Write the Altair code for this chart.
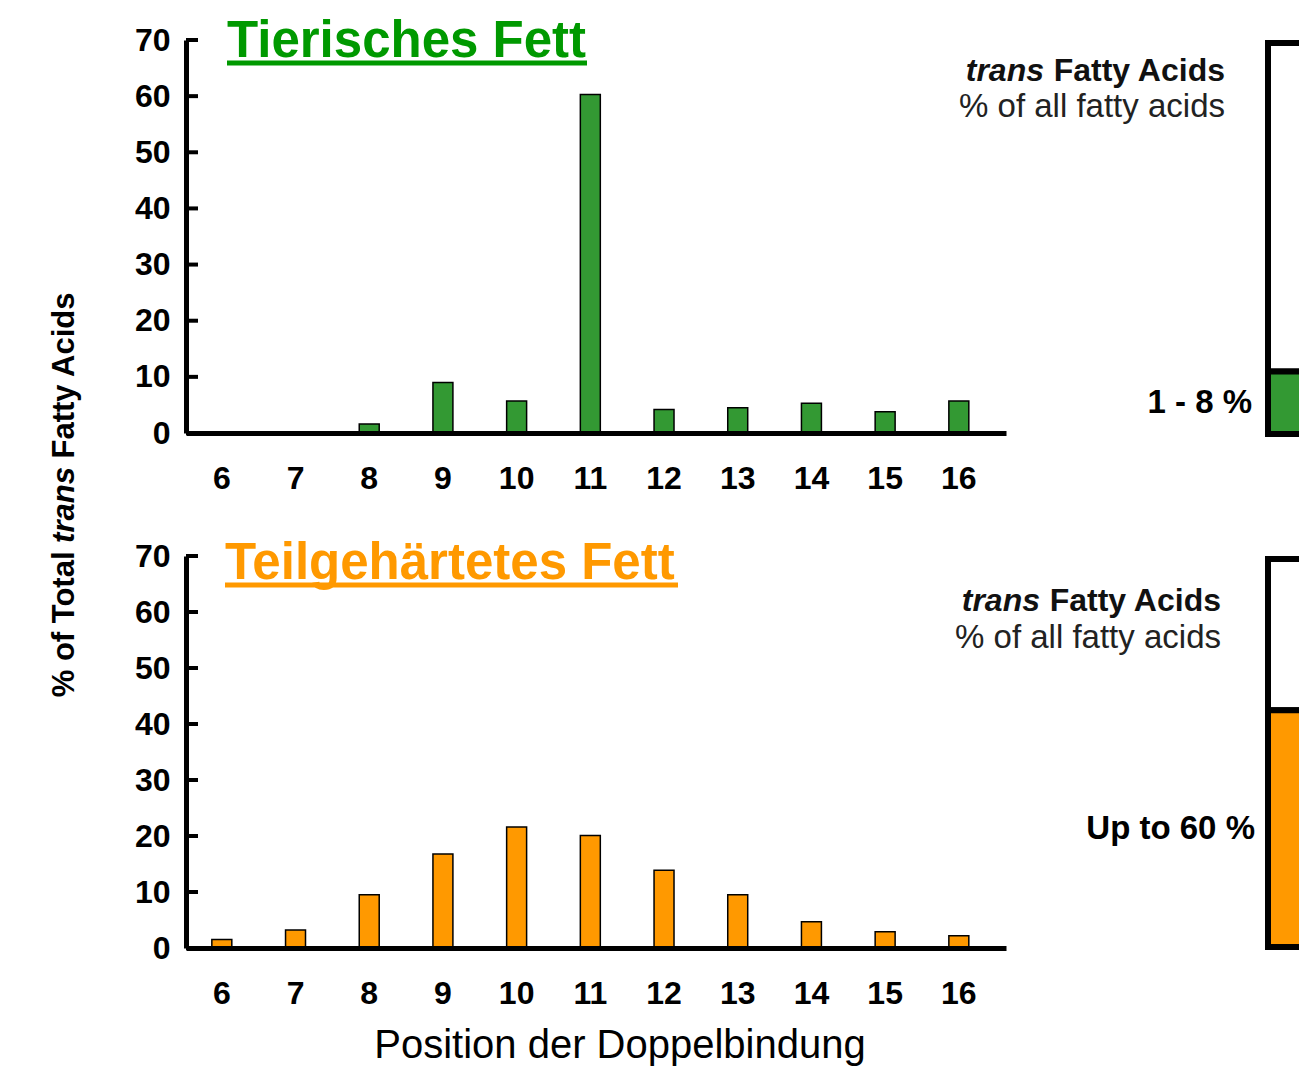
import altair as alt
import pandas as pd

FONT = "Liberation Sans"

# ---- data ----
positions = ["6", "7", "8", "9", "10", "11", "12", "13", "14", "15", "16"]
animal_values = [0, 0, 1.6, 9.0, 5.7, 60.3, 4.2, 4.5, 5.3, 3.8, 5.7]
hydro_values = [1.5, 3.2, 9.5, 16.8, 21.6, 20.1, 13.9, 9.5, 4.7, 2.9, 2.2]
y_ticks = [0, 10, 20, 30, 40, 50, 60, 70]
panel_titles = ["Tierisches Fett", "Teilgehärtetes Fett"]
box_shares = [16, 61]
box_labels = ["1 - 8 %", "Up to 60 %"]
bar_colors = ["#339933", "#FF9900"]
title_colors = ["#009900", "#FF9900"]
y_title_parts = ["% of Total", "trans", "Fatty Acids"]
x_title = "Position der Doppelbindung"
ann_line1 = ["trans", "Fatty Acids"]
ann_line2 = "% of all fatty acids"


def one_row(text, field="t"):
    return pd.DataFrame({field: [text]})


def bar_panel(values, fill, title, title_color, height, title_x, title_base,
              underline_len, underline_y, with_y_title=False, with_x_title=False):
    df = pd.DataFrame({"pos": positions, "val": values})
    xscale = alt.Scale(paddingInner=0.729, paddingOuter=0.4275, align=0.41)
    yscale = alt.Scale(domain=[0, 70], nice=False, zero=True)
    x = alt.X("pos:N", sort=positions, scale=xscale,
              axis=alt.Axis(title=None, labelAngle=0, labelFont=FONT, labelFontSize=32,
                            labelFontWeight="bold", labelColor="black", labelPadding=30,
                            ticks=False, domainColor="black", domainWidth=5, zindex=1,
                            labelBaseline="top"))
    y = alt.Y("val:Q", scale=yscale,
              axis=alt.Axis(title=None, values=y_ticks, labelFont=FONT, labelFontSize=32,
                            labelFontWeight="bold", labelColor="black", labelPadding=16,
                            ticks=False, grid=False, domainColor="black", domainWidth=5,
                            zindex=1))
    bars = alt.Chart(df).mark_bar(fill=fill, stroke="black", strokeWidth=1.5).encode(x=x, y=y)

    ticks = alt.Chart(pd.DataFrame({"t": y_ticks})).mark_rule(
        color="black", strokeWidth=4).encode(
        y=alt.Y("t:Q", scale=yscale), x=alt.value(0), x2=alt.value(12))

    ttl = alt.Chart(one_row(title)).mark_text(
        align="left", baseline="alphabetic", font=FONT, fontSize=51, fontWeight="bold",
        color=title_color).encode(text="t:N", x=alt.value(title_x), y=alt.value(title_base))
    uline = alt.Chart(one_row(title)).mark_rule(color=title_color, strokeWidth=5).encode(
        x=alt.value(title_x), x2=alt.value(title_x + underline_len), y=alt.value(underline_y))

    layers = [bars, ticks, ttl, uline]

    if with_y_title:
        fs = 31
        center = 465
        layers.append(alt.Chart(one_row(y_title_parts[0])).mark_text(
            angle=270, align="right", baseline="alphabetic", font=FONT, fontSize=fs,
            fontWeight="bold", color="black").encode(
            text="t:N", x=alt.value(-112), y=alt.value(center + 46.5)))
        layers.append(alt.Chart(one_row(y_title_parts[1])).mark_text(
            angle=270, align="center", baseline="alphabetic", font=FONT, fontSize=fs,
            fontWeight="bold", fontStyle="italic", color="black").encode(
            text="t:N", x=alt.value(-112), y=alt.value(center)))
        layers.append(alt.Chart(one_row(y_title_parts[2])).mark_text(
            angle=270, align="left", baseline="alphabetic", font=FONT, fontSize=fs,
            fontWeight="bold", color="black").encode(
            text="t:N", x=alt.value(-112), y=alt.value(center - 46.5)))

    if with_x_title:
        layers.append(alt.Chart(one_row(x_title)).mark_text(
            align="center", baseline="alphabetic", font=FONT, fontSize=40,
            color="black").encode(text="t:N", x=alt.value(434), y=alt.value(502)))

    return alt.layer(*layers).properties(width=820, height=height)


def box_panel(share, fill, label, height, label_x, ann_x, ann_y1, ann_y2):
    df = pd.DataFrame({"lo": [share, 0], "hi": [100, share], "fill": ["white", fill]})
    yscale = alt.Scale(domain=[0, 100], nice=False, zero=False, padding=3)
    rects = alt.Chart(df).mark_rect(stroke="black", strokeWidth=6, clip=True).encode(
        x=alt.value(3), x2=alt.value(60),
        y=alt.Y("lo:Q", scale=yscale, axis=None), y2="hi:Q",
        fill=alt.Fill("fill:N", scale=None))
    lab = alt.Chart(pd.DataFrame({"t": [label], "mid": [share / 2]})).mark_text(
        align="right", baseline="middle", font=FONT, fontSize=33, fontWeight="bold",
        color="black").encode(text="t:N", x=alt.value(label_x),
                              y=alt.Y("mid:Q", scale=yscale, axis=None))
    a1 = alt.Chart(one_row(ann_line1[1])).mark_text(
        align="right", baseline="alphabetic", font=FONT, fontSize=32, fontWeight="bold",
        color="#111111").encode(text="t:N", x=alt.value(ann_x), y=alt.value(ann_y1))
    a0 = alt.Chart(one_row(ann_line1[0])).mark_text(
        align="right", baseline="alphabetic", font=FONT, fontSize=32, fontWeight="bold",
        fontStyle="italic", color="#111111").encode(
        text="t:N", x=alt.value(ann_x - 181), y=alt.value(ann_y1))
    a2 = alt.Chart(one_row(ann_line2)).mark_text(
        align="right", baseline="alphabetic", font=FONT, fontSize=33,
        color="#222222").encode(text="t:N", x=alt.value(ann_x), y=alt.value(ann_y2))
    return alt.layer(rects, lab, a0, a1, a2).properties(width=34, height=height)


top_bars = bar_panel(animal_values, bar_colors[0], panel_titles[0], title_colors[0], 393,
                     41, 17, 360, 23, with_y_title=True)
bot_bars = bar_panel(hydro_values, bar_colors[1], panel_titles[1], title_colors[1], 392,
                     39, 23, 453, 29, with_x_title=True)
top_box = box_panel(box_shares[0], bar_colors[0], box_labels[0], 397, -13, -40, 41, 77)
bot_box = box_panel(box_shares[1], bar_colors[1], box_labels[1], 394, -10, -44, 55, 92)

chart = alt.concat(
    top_bars, top_box, bot_bars, bot_box,
    columns=2, spacing={"row": 119, "column": 259}, bounds="flush", align="each",
).properties(
    padding={"left": 41, "top": 8, "right": 0, "bottom": 0},
    background="white",
).configure_view(strokeWidth=0)

chart.save("out.html", embed_options={"renderer": "svg", "actions": False})
